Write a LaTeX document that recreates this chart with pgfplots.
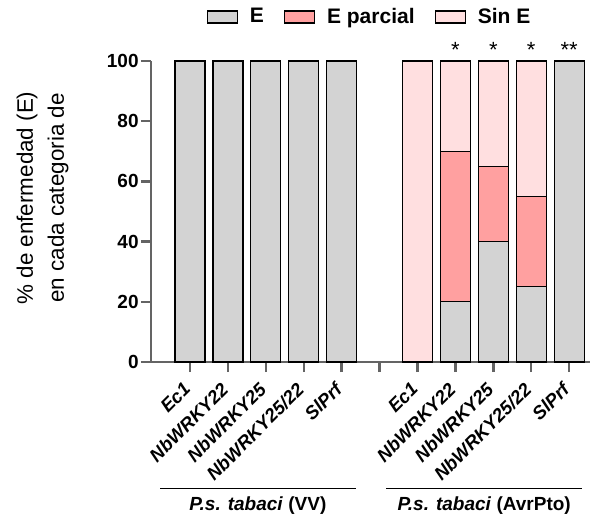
\documentclass[border=0pt]{standalone}
\usepackage{fontspec}
\setmainfont{Liberation Sans}
\usepackage{graphicx}
\usepackage{pgfplots}
\pgfplotsset{compat=1.18}
\definecolor{cE}{RGB}{211,211,211}
\definecolor{cP}{RGB}{255,160,160}
\definecolor{cS}{RGB}{255,223,224}
\definecolor{axgray}{RGB}{100,100,100}
\newcommand{\rl}[1]{\rotatebox{45}{#1}}
\begin{document}
\begin{tikzpicture}
\begin{axis}[
  width=219.5pt, height=150.5pt, scale only axis,
  xmin=-1.03, xmax=10.55, ymin=0, ymax=100,
  axis lines=left,
  axis line style={-, axgray, line width=1.2pt},
  ybar stacked, bar width=15pt,
  xtick={0,...,10},
  xticklabels={\rl{Ec1},\rl{NbWRKY22},\rl{NbWRKY25},\rl{NbWRKY25/22},\rl{SlPrf},,\rl{Ec1},\rl{NbWRKY22},\rl{NbWRKY25},\rl{NbWRKY25/22},\rl{SlPrf}},
  xticklabel style={anchor=north east, inner sep=0pt, xshift=1pt, yshift=-4.5pt, font=\fontsize{9.3}{10}\selectfont\bfseries\itshape},
  ytick={0,20,...,100},
  yticklabel style={inner sep=1pt, font=\fontsize{9.5}{11}\selectfont\bfseries},
  /pgf/number format/assume math mode=true,
  tick style={axgray, line width=1.2pt},
  tick align=outside, major tick length=5pt,
  clip=false,
  ylabel={\% de enfermedad (E)\\en cada categoria de},
  ylabel style={at={(axis description cs:-0.247,0.545)}, anchor=center, rotate=0, align=center, font=\fontsize{11.2}{15.5}\selectfont},
  legend columns=3,
  legend style={at={(0.5,1)}, anchor=center, yshift=22pt, draw=none, fill=none,
    font=\fontsize{10.5}{12}\selectfont\bfseries,
    /tikz/every odd column/.append style={column sep=4pt},
    /tikz/every even column/.append style={column sep=8pt}},
  legend image code/.code={\draw[#1] (0pt,-3pt) rectangle (15pt,3pt);},
]
\addplot[fill=cE, draw=black, line width=0.6pt] coordinates {(0,100) (1,100) (2,100) (3,100) (4,100) (6,0) (7,20) (8,40) (9,25) (10,100)};
\addplot[fill=cP, draw=black, line width=0.6pt] coordinates {(0,0) (1,0) (2,0) (3,0) (4,0) (6,0) (7,50) (8,25) (9,30) (10,0)};
\addplot[fill=cS, draw=black, line width=0.6pt] coordinates {(0,0) (1,0) (2,0) (3,0) (4,0) (6,100) (7,30) (8,35) (9,45) (10,0)};
\legend{E, E parcial, Sin E}
\node[font=\fontsize{11}{12}\selectfont, anchor=base] at (axis cs:7,101) {*};
\node[font=\fontsize{11}{12}\selectfont, anchor=base] at (axis cs:8,101) {*};
\node[font=\fontsize{11}{12}\selectfont, anchor=base] at (axis cs:9,101) {*};
\node[font=\fontsize{11}{12}\selectfont, anchor=base] at (axis cs:10,101) {**};
\draw[black, line width=0.6pt] (axis cs:-0.79,-41.9) -- (axis cs:4.37,-41.9);
\draw[black, line width=0.6pt] (axis cs:5.18,-41.9) -- (axis cs:10.34,-41.9);
\node[font=\fontsize{9.5}{11}\selectfont\bfseries] at (axis cs:1.79,-47.8) {\textit{P.s. tabaci} (VV)};
\node[font=\fontsize{9.5}{11}\selectfont\bfseries] at (axis cs:7.76,-47.8) {\textit{P.s. tabaci} (AvrPto)};
\coordinate (BL) at (rel axis cs:0,0);
\coordinate (TR) at (rel axis cs:1,1);
\end{axis}
\pgfresetboundingbox
\path ([shift={(-75.5pt,-76.5pt)}]BL) rectangle ([shift={(1pt,30.5pt)}]TR);
\end{tikzpicture}
\end{document}
